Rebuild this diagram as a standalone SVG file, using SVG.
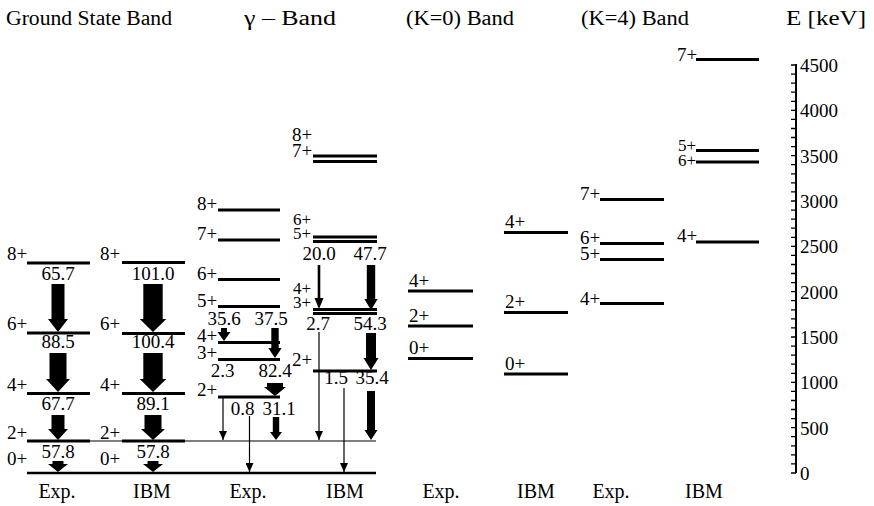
<svg xmlns="http://www.w3.org/2000/svg" width="874" height="506" viewBox="0 0 874 506" font-family="'Liberation Serif', 'Times New Roman', 'DejaVu Serif', serif">
<defs>
<style>
text{font-family:'Liberation Serif','Times New Roman','DejaVu Serif',serif;fill:#000}
.t{font-size:19px}
.s{font-size:17px}
.h{font-size:20px;text-anchor:middle}
.m{text-anchor:middle}
.lv{stroke:#000;stroke-width:3;fill:none}
.lt{stroke:#000;stroke-width:1.2;fill:none}
.ar{fill:#000;stroke:none}
.th{stroke:#000;stroke-width:1.2;fill:none;marker-end:url(#ah)}
.ax{stroke:#000;stroke-width:2;fill:none}
.tk{stroke:#000;stroke-width:1.3;fill:none}
</style>
<marker id="ah" markerUnits="userSpaceOnUse" markerWidth="8" markerHeight="9" refX="4" refY="9" orient="0" viewBox="0 0 8 9">
<path d="M0,0 L8,0 L4,9 Z" fill="#000"/>
</marker>
</defs>
<rect width="874" height="506" fill="#fff"/>

<g id="headers">
<text class="h" x="89" y="25" textLength="166" lengthAdjust="spacingAndGlyphs">Ground State Band</text>
<text class="h" x="290" y="25" textLength="92" lengthAdjust="spacingAndGlyphs">γ – Band</text>
<text class="h" x="460" y="25" textLength="108" lengthAdjust="spacingAndGlyphs">(K=0) Band</text>
<text class="h" x="635" y="25" textLength="108" lengthAdjust="spacingAndGlyphs">(K=4) Band</text>
<text class="h" x="826" y="25" textLength="80" lengthAdjust="spacingAndGlyphs">E [keV]</text>
</g>

<g id="footers">
<text class="h" x="57" y="498">Exp.</text>
<text class="h" x="152" y="498">IBM</text>
<text class="h" x="248" y="498">Exp.</text>
<text class="h" x="345" y="498">IBM</text>
<text class="h" x="441" y="498">Exp.</text>
<text class="h" x="536" y="498">IBM</text>
<text class="h" x="611" y="498">Exp.</text>
<text class="h" x="704" y="498">IBM</text>
</g>

<g id="ground-2plus-common">
<line class="lt" x1="27" y1="441" x2="376" y2="441"/>
</g>
<g id="ground-0plus-common">
<line x1="27" y1="473" x2="376" y2="473" stroke="#000" stroke-width="2.5"/>
</g>

<!-- Ground state band Exp -->
<g id="gs-exp-8"><line class="lv" x1="27" y1="263" x2="90" y2="263"/><text class="t" x="7" y="260">8+</text></g>
<g id="gs-exp-6"><line class="lv" x1="27" y1="333" x2="90" y2="333"/><text class="t" x="7" y="330">6+</text></g>
<g id="gs-exp-4"><line class="lv" x1="27" y1="393.5" x2="90" y2="393.5"/><text class="t" x="7" y="391">4+</text></g>
<g id="gs-exp-2"><line class="lv" x1="27" y1="441" x2="90" y2="441"/><text class="t" x="7" y="439">2+</text></g>
<g id="gs-exp-0"><text class="t" x="7" y="465">0+</text></g>

<!-- Ground state band IBM -->
<g id="gs-ibm-8"><line class="lv" x1="122" y1="262.5" x2="185" y2="262.5"/><text class="t" x="100" y="260">8+</text></g>
<g id="gs-ibm-6"><line class="lv" x1="122" y1="333.5" x2="185" y2="333.5"/><text class="t" x="100" y="330">6+</text></g>
<g id="gs-ibm-4"><line class="lv" x1="122" y1="393.5" x2="185" y2="393.5"/><text class="t" x="100" y="391">4+</text></g>
<g id="gs-ibm-2"><line class="lv" x1="122" y1="441" x2="185" y2="441"/><text class="t" x="100" y="439">2+</text></g>
<g id="gs-ibm-0"><text class="t" x="100" y="465">0+</text></g>

<!-- Gamma band Exp -->
<g id="g-exp-8"><line class="lv" x1="218" y1="210" x2="280" y2="210"/><text class="t" x="197" y="210">8+</text></g>
<g id="g-exp-7"><line class="lv" x1="218" y1="240" x2="280" y2="240"/><text class="t" x="197" y="240">7+</text></g>
<g id="g-exp-6"><line class="lv" x1="218" y1="279.5" x2="280" y2="279.5"/><text class="t" x="197" y="280">6+</text></g>
<g id="g-exp-5"><line class="lv" x1="218" y1="306.5" x2="280" y2="306.5"/><text class="t" x="197" y="307">5+</text></g>
<g id="g-exp-4"><line class="lv" x1="218" y1="342.5" x2="280" y2="342.5"/><text class="t" x="197" y="342">4+</text></g>
<g id="g-exp-3"><line class="lv" x1="218" y1="359.5" x2="280" y2="359.5"/><text class="t" x="197" y="359">3+</text></g>
<g id="g-exp-2"><line class="lv" x1="218" y1="397" x2="280" y2="397"/><text class="t" x="197" y="396">2+</text></g>

<!-- Gamma band IBM -->
<g id="g-ibm-8"><line class="lv" x1="313" y1="156" x2="377" y2="156"/><text class="t" x="292" y="141">8+</text></g>
<g id="g-ibm-7"><line class="lv" x1="313" y1="161.5" x2="377" y2="161.5"/><text class="t" x="292" y="157">7+</text></g>
<g id="g-ibm-6"><line class="lv" x1="313" y1="237" x2="377" y2="237"/><text class="t s" x="293" y="225">6+</text></g>
<g id="g-ibm-5"><line class="lv" x1="313" y1="241.5" x2="377" y2="241.5"/><text class="t s" x="293" y="239">5+</text></g>
<g id="g-ibm-4"><line class="lv" x1="313" y1="309.5" x2="377" y2="309.5"/><text class="t s" x="293" y="294">4+</text></g>
<g id="g-ibm-3"><line class="lv" x1="313" y1="313.5" x2="377" y2="313.5"/><text class="t s" x="293" y="308">3+</text></g>
<g id="g-ibm-2"><line class="lv" x1="313" y1="371" x2="377" y2="371"/><text class="t" x="292" y="366">2+</text></g>

<!-- K=0 band -->
<g id="k0-exp-4"><line class="lv" x1="408" y1="291" x2="473" y2="291"/><text class="t" x="409" y="287">4+</text></g>
<g id="k0-exp-2"><line class="lv" x1="408" y1="326" x2="473" y2="326"/><text class="t" x="409" y="322">2+</text></g>
<g id="k0-exp-0"><line class="lv" x1="408" y1="358.5" x2="473" y2="358.5"/><text class="t" x="409" y="354">0+</text></g>
<g id="k0-ibm-4"><line class="lv" x1="504" y1="232.5" x2="568" y2="232.5"/><text class="t" x="505" y="228">4+</text></g>
<g id="k0-ibm-2"><line class="lv" x1="504" y1="312.5" x2="568" y2="312.5"/><text class="t" x="505" y="308">2+</text></g>
<g id="k0-ibm-0"><line class="lv" x1="504" y1="374" x2="568" y2="374"/><text class="t" x="505" y="370">0+</text></g>

<!-- K=4 band -->
<g id="k4-exp-7"><line class="lv" x1="600" y1="199.5" x2="664" y2="199.5"/><text class="t" x="580" y="200">7+</text></g>
<g id="k4-exp-6"><line class="lv" x1="600" y1="243.5" x2="664" y2="243.5"/><text class="t" x="580" y="244">6+</text></g>
<g id="k4-exp-5"><line class="lv" x1="600" y1="259.5" x2="664" y2="259.5"/><text class="t" x="580" y="260">5+</text></g>
<g id="k4-exp-4"><line class="lv" x1="600" y1="303.5" x2="664" y2="303.5"/><text class="t" x="580" y="305">4+</text></g>
<g id="k4-ibm-7"><line class="lv" x1="696" y1="59.5" x2="759" y2="59.5"/><text class="t" x="677" y="61">7+</text></g>
<g id="k4-ibm-5"><line class="lv" x1="696" y1="150.5" x2="759" y2="150.5"/><text class="t s" x="678" y="151">5+</text></g>
<g id="k4-ibm-6"><line class="lv" x1="696" y1="162" x2="759" y2="162"/><text class="t s" x="678" y="166">6+</text></g>
<g id="k4-ibm-4"><line class="lv" x1="696" y1="242" x2="759" y2="242"/><text class="t" x="677" y="242">4+</text></g>

<!-- Energy axis -->
<g id="axis">
<path class="ax" d="M796,64 V473"/>
<path class="tk" d="M791,65H796M791,74.1H796M791,83.1H796M791,92.2H796M791,101.3H796M791,110.3H796M791,119.4H796M791,128.5H796M791,137.5H796M791,146.6H796M791,155.7H796M791,164.7H796M791,173.8H796M791,182.9H796M791,191.9H796M791,201H796M791,210.1H796M791,219.1H796M791,228.2H796M791,237.3H796M791,246.3H796M791,255.4H796M791,264.5H796M791,273.5H796M791,282.6H796M791,291.7H796M791,300.7H796M791,309.8H796M791,318.9H796M791,327.9H796M791,337H796M791,346.1H796M791,355.1H796M791,364.2H796M791,373.3H796M791,382.3H796M791,391.4H796M791,400.5H796M791,409.5H796M791,418.6H796M791,427.7H796M791,436.7H796M791,445.8H796M791,454.9H796M791,463.9H796M791,473H796"/>
<g>
<text class="t" x="800" y="72">4500</text>
<text class="t" x="800" y="117">4000</text>
<text class="t" x="800" y="163">3500</text>
<text class="t" x="800" y="208">3000</text>
<text class="t" x="800" y="253">2500</text>
<text class="t" x="800" y="299">2000</text>
<text class="t" x="800" y="344">1500</text>
<text class="t" x="800" y="389">1000</text>
<text class="t" x="800" y="435">500</text>
<text class="t" x="800" y="480">0</text>
</g>
</g>

<!-- Transitions -->
<g id="connectors">
<g class="ar">
<polygon points="51.5,284 64.5,284 64.5,319 68,319 58,332 48,319 51.5,319"/>
<polygon points="49.5,353 66.5,353 66.5,379 70,379 58,392 46,379 49.5,379"/>
<polygon points="51.5,415 64.5,415 64.5,429 68,429 58,440 48,429 51.5,429"/>
<polygon points="52.5,461 63.5,461 63.5,464 68,464 58,472 48,464 52.5,464"/>
<polygon points="143.3,284 162.7,284 162.7,319 166.3,319 153,332 139.7,319 143.3,319"/>
<polygon points="143.3,353 162.7,353 162.7,379 166.3,379 153,392 139.7,379 143.3,379"/>
<polygon points="144.5,415 161.5,415 161.5,429 165,429 153,440 141,429 144.5,429"/>
<polygon points="147.5,461 158.5,461 158.5,464 163,464 153,472 143,464 147.5,464"/>
<polygon points="221,328 227,328 227,332 230.5,332 224,341 217.5,332 221,332"/>
<polygon points="271.3,328 278.7,328 278.7,348 281.7,348 275,358 268.3,348 271.3,348"/>
<polygon points="267,383 283,383 283,387 286,387 275,396 264,387 267,387"/>
<polygon points="272.8,417 279.2,417 279.2,432 282,432 276,440 270,432 272.8,432"/>
<polygon points="317.7,265 320.3,265 320.3,298 323.5,298 319,309 314.5,298 317.7,298"/>
<polygon points="366.8,265 375.2,265 375.2,299 377.7,299 371,310 364.3,299 366.8,299"/>
<polygon points="366,333 376,333 376,358 378.5,358 371,370 363.5,358 366,358"/>
<polygon points="367,391 375,391 375,430 377.5,430 371,440 364.5,430 367,430"/>
</g>
<line class="th" x1="223" y1="397" x2="223" y2="440"/>
<line class="th" x1="249.5" y1="416" x2="249.5" y2="472"/>
<line class="th" x1="319" y1="332" x2="319" y2="440"/>
<line class="th" x1="344" y1="388" x2="344" y2="472"/>
<g>
<text class="t m" x="58" y="280">65.7</text>
<text class="t m" x="58" y="348">88.5</text>
<text class="t m" x="58" y="410">67.7</text>
<text class="t m" x="58" y="458">57.8</text>
<text class="t m" x="153" y="280">101.0</text>
<text class="t m" x="153" y="348">100.4</text>
<text class="t m" x="153" y="410">89.1</text>
<text class="t m" x="153" y="458">57.8</text>
<text class="t m" x="224" y="325">35.6</text>
<text class="t m" x="271" y="325">37.5</text>
<text class="t m" x="222.5" y="377">2.3</text>
<text class="t m" x="275" y="377">82.4</text>
<text class="t m" x="242.5" y="415">0.8</text>
<text class="t m" x="279" y="415">31.1</text>
<text class="t m" x="319" y="260">20.0</text>
<text class="t m" x="370" y="260">47.7</text>
<text class="t m" x="318" y="330">2.7</text>
<text class="t m" x="370" y="330">54.3</text>
<text class="t m" x="336" y="384">1.5</text>
<text class="t m" x="372" y="384">35.4</text>
</g>
</g>
</svg>
